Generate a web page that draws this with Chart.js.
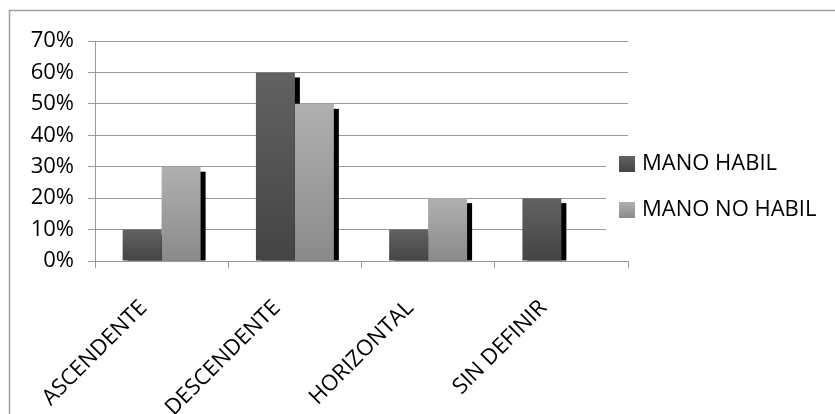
<!DOCTYPE html>
<html>
<head>
<meta charset="utf-8">
<script src="https://cdn.jsdelivr.net/npm/chart.js@4/dist/chart.umd.min.js"></script>
<style>
    body { margin: 0; background: #fff; }
    #wrap { width: 835px; height: 414px; }
</style>
</head>
<body>
<div id="wrap"><canvas id="chart" width="835" height="414"></canvas></div>
<script>
// data
const categories = ['ASCENDENTE', 'DESCENDENTE', 'HORIZONTAL', 'SIN DEFINIR'];
const seriesNames = ['MANO HABIL', 'MANO NO HABIL'];
const manoHabil = [10, 60, 10, 20];
const manoNoHabil = [30, 50, 20, 0];
const yMax = 70;
const yStep = 10;

// top / bottom colour of each series gradient
const fills = [
    ['#626262', '#444444'],
    ['#b0b0b0', '#8a8a8a']
];

const barFill = (top, bottom) => (ctx) => {
    const chart = ctx.chart;
    if (!chart.chartArea || ctx.type !== 'data') return bottom;
    const yScale = chart.scales.y;
    const yTop = yScale.getPixelForValue(ctx.raw);
    const yBase = yScale.getPixelForValue(0);
    if (yBase - yTop < 1) return bottom;
    const g = chart.ctx.createLinearGradient(0, yTop, 0, yBase);
    g.addColorStop(0, top);
    g.addColorStop(1, bottom);
    return g;
};

// black drop shadow to the lower right of every bar
const barShadow = {
    id: 'barShadow',
    beforeDatasetsDraw(chart) {
        const { ctx, chartArea } = chart;
        ctx.save();
        ctx.beginPath();
        ctx.rect(chartArea.left, chartArea.top, chartArea.right - chartArea.left, chartArea.bottom - chartArea.top);
        ctx.clip();
        ctx.fillStyle = '#000';
        chart.data.datasets.forEach((ds, i) => {
            chart.getDatasetMeta(i).data.forEach(bar => {
                const h = bar.base - bar.y - 5;
                if (h > 0) ctx.fillRect(bar.x - bar.width / 2 + 5, bar.y + 5, bar.width, h);
            });
        });
        ctx.restore();
    }
};

// outer frame and the boxed legend on the right (sits over the grid)
const frameAndLegend = {
    id: 'frameAndLegend',
    afterDraw(chart) {
        const ctx = chart.ctx;
        ctx.save();
        ctx.strokeStyle = '#a0a0a0';
        ctx.lineWidth = 1.5;
        ctx.strokeRect(9.5, 10.5, 900, 500);

        ctx.fillStyle = '#fff';
        ctx.fillRect(606, 145, 229, 100);

        ctx.font = "22px 'Open Sans', sans-serif";
        ctx.textBaseline = 'middle';
        chart.data.datasets.forEach((ds, i) => {
            const cy = 164 + i * 46;
            const g = ctx.createLinearGradient(0, cy - 8, 0, cy + 8);
            g.addColorStop(0, fills[i][0]);
            g.addColorStop(1, fills[i][1]);
            ctx.fillStyle = g;
            ctx.fillRect(619, cy - 8, 16, 16);
            ctx.fillStyle = '#000';
            ctx.fillText(ds.label, 642, cy);
        });
        ctx.restore();
    }
};

Chart.defaults.font.family = "'Open Sans', sans-serif";
Chart.defaults.font.size = 22;
Chart.defaults.color = '#000';

new Chart(document.getElementById('chart'), {
    type: 'bar',
    data: {
        labels: categories,
        datasets: [
            { label: seriesNames[0], data: manoHabil, backgroundColor: barFill(...fills[0]) },
            { label: seriesNames[1], data: manoNoHabil, backgroundColor: barFill(...fills[1]) }
        ]
    },
    options: {
        responsive: false,
        animation: false,
        events: [],
        layout: { padding: { top: 41, right: 207, left: 0, bottom: 0 } },
        datasets: {
            bar: { categoryPercentage: 0.585, barPercentage: 1, borderWidth: 0 }
        },
        plugins: {
            legend: { display: false },
            tooltip: { enabled: false }
        },
        scales: {
            x: {
                grid: { drawOnChartArea: false, offset: true, tickLength: 7, color: '#999' },
                border: { color: '#999' },
                ticks: { maxRotation: 45, minRotation: 45, autoSkip: false, padding: 27, labelOffset: -18 },
                afterFit: (scale) => { scale.height = 153; }
            },
            y: {
                min: 0,
                max: yMax,
                grid: { color: '#999', tickLength: 7 },
                border: { color: '#999' },
                ticks: { stepSize: yStep, padding: 14, callback: v => v + '%' },
                afterFit: (scale) => { scale.width = 95; }
            }
        }
    },
    plugins: [barShadow, frameAndLegend]
});
</script>
</body>
</html>
